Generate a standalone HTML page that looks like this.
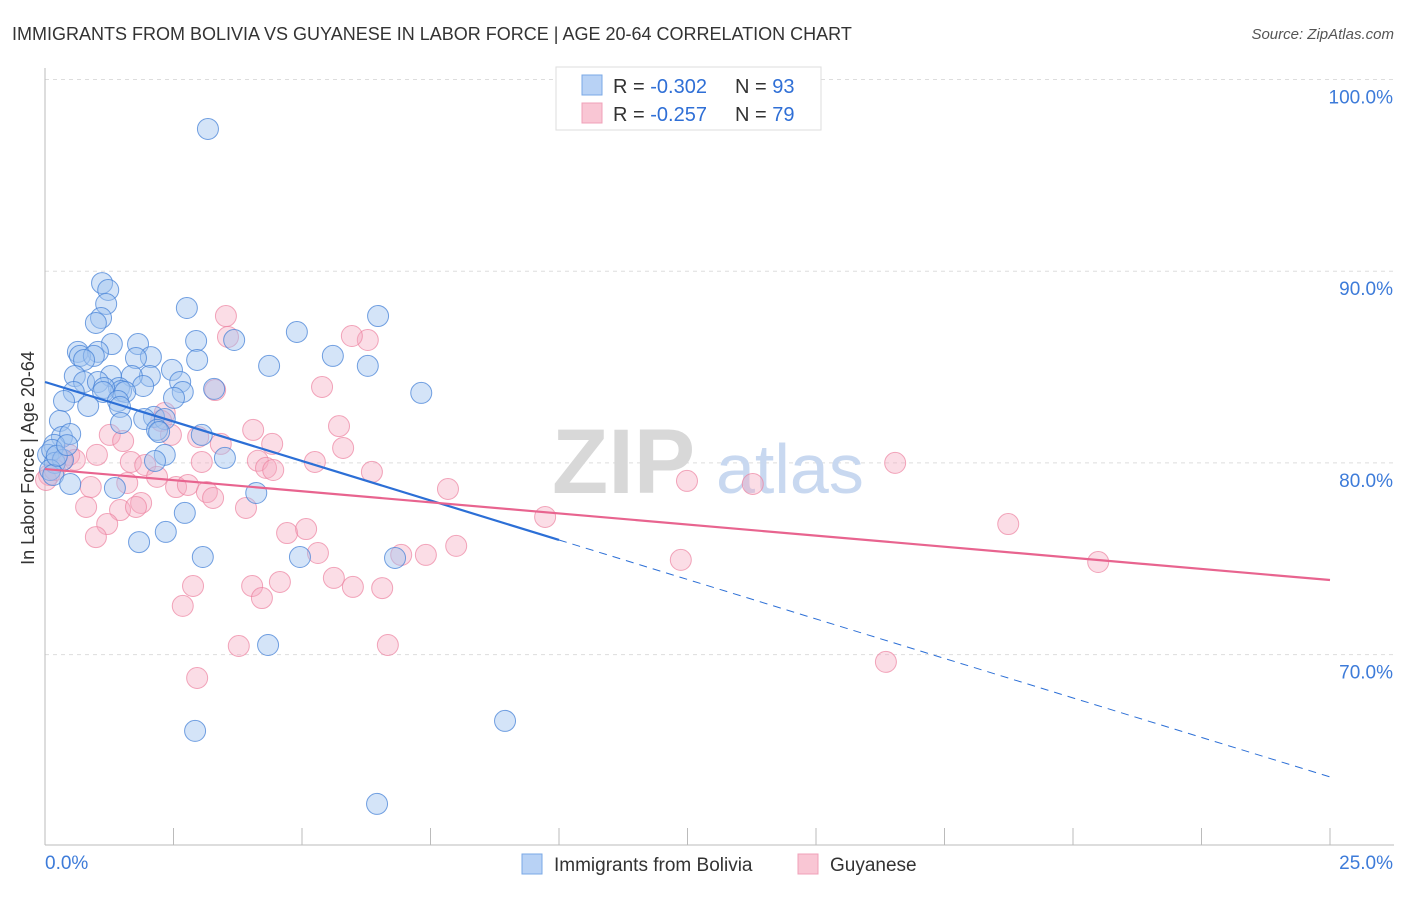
<!DOCTYPE html>
<html><head><meta charset="utf-8"><style>
body{margin:0;background:#fff;font-family:"Liberation Sans",sans-serif;}
svg text{font-family:"Liberation Sans",sans-serif;}
</style></head><body>
<svg id="chart" width="1406" height="892">
<text x="12" y="40" font-size="18" fill="#333">IMMIGRANTS FROM BOLIVIA VS GUYANESE IN LABOR FORCE | AGE 20-64 CORRELATION CHART</text>
<text x="1394" y="39" font-size="15" fill="#555" font-style="italic" text-anchor="end">Source: ZipAtlas.com</text>
<text x="0" y="0" transform="translate(34,458) rotate(-90)" font-size="18" fill="#333" text-anchor="middle">In Labor Force | Age 20-64</text>
<g id="grid"></g>
<text x="552" y="493" font-size="92" fill="#d8d8d8" font-family="Liberation Serif" font-weight="bold">ZIP</text>
<text x="716" y="493" font-size="70" fill="#c8d8f0">atlas</text>
<g id="pts"></g>
<g id="lines"></g>
<g>
<rect x="556" y="67" width="265" height="63" fill="#fff" stroke="#ddd"/>
<rect x="582" y="75" width="20" height="20" fill="#b8d2f5" stroke="#7aa8e6"/>
<rect x="582" y="103" width="20" height="20" fill="#f9c6d4" stroke="#f0a0b8"/>
<text x="613" y="93" font-size="20" fill="#333">R = <tspan fill="#2f6fd6">-0.302</tspan></text>
<text x="735" y="93" font-size="20" fill="#333">N = <tspan fill="#2f6fd6">93</tspan></text>
<text x="613" y="121" font-size="20" fill="#333">R = <tspan fill="#2f6fd6">-0.257</tspan></text>
<text x="735" y="121" font-size="20" fill="#333">N = <tspan fill="#2f6fd6">79</tspan></text>
</g>
<g>
<rect x="522" y="854" width="20" height="20" fill="#b8d2f5" stroke="#7aa8e6"/>
<text x="554" y="871" font-size="19" fill="#333">Immigrants from Bolivia</text>
<rect x="798" y="854" width="20" height="20" fill="#f9c6d4" stroke="#f0a0b8"/>
<text x="830" y="871" font-size="19" fill="#333">Guyanese</text>
</g>
</svg>
<script>
const xTicks=[0,2.5,5,7.5,10,12.5,15,17.5,20,22.5,25];
const yTicks=[100,90,80,70];
const yTickLabels=["100.0%","90.0%","80.0%","70.0%"];
const xEndLabels=["0.0%","25.0%"];
const blueX=[3.17,1.11,1.23,1.19,1.09,0.99,2.76,4.90,6.48,3.68,2.94,1.30,1.81,0.64,1.03,0.68,0.95,2.06,5.60,6.28,0.76,1.77,2.96,4.36,2.47,2.04,1.69,1.28,0.58,2.63,0.76,1.03,1.91,1.44,1.48,1.15,0.56,1.56,1.13,2.68,7.32,3.29,0.37,1.42,2.51,0.84,1.46,2.12,2.33,1.93,2.18,1.48,0.29,0.33,0.49,3.05,2.22,0.18,0.06,0.14,0.19,0.35,2.33,2.14,3.50,0.10,0.16,0.49,1.36,4.11,2.72,2.35,1.83,3.07,4.96,6.81,4.34,8.95,2.92,6.46,0.23,0.43];
const blueY=[97.42,89.38,89.02,88.29,87.56,87.30,88.08,86.83,87.66,86.41,86.36,86.20,86.20,85.79,85.79,85.58,85.58,85.52,85.58,85.06,85.37,85.47,85.37,85.06,84.85,84.53,84.53,84.53,84.53,84.22,84.22,84.22,84.01,83.91,83.75,83.91,83.70,83.70,83.70,83.70,83.65,83.86,83.23,83.23,83.39,82.97,82.92,82.40,82.29,82.29,81.72,82.08,82.19,81.35,81.51,81.46,81.61,80.94,80.42,80.68,80.00,80.16,80.42,80.10,80.26,79.63,79.37,78.90,78.69,78.43,77.39,76.40,75.87,75.09,75.09,75.04,70.50,66.54,66.02,62.21,80.37,80.93];
const pinkX=[3.52,3.56,6.28,5.97,5.39,3.31,5.72,4.05,2.33,2.26,2.45,1.26,1.52,2.98,3.42,1.01,0.47,0.58,0.33,1.67,1.95,3.05,4.14,4.30,4.44,5.25,5.80,6.36,7.84,12.49,13.77,16.54,2.18,1.60,0.89,2.55,2.78,3.15,3.27,1.87,1.46,0.80,1.77,3.91,1.21,0.99,4.71,5.08,9.73,7.41,8.00,5.31,18.74,20.49,12.37,6.93,5.62,2.88,4.03,4.57,5.99,6.56,2.68,4.22,3.77,6.67,2.96,16.36,0.08,0.02,0.19,4.42];
const pinkY=[87.66,86.57,86.41,86.62,83.96,83.80,81.92,81.72,82.60,82.19,81.46,81.46,81.14,81.35,80.99,80.42,80.42,80.16,80.11,80.05,79.89,80.05,80.11,79.74,79.63,80.05,80.78,79.53,78.64,79.06,78.90,80.00,79.27,78.95,78.74,78.74,78.85,78.48,78.17,77.91,77.54,77.70,77.70,77.65,76.81,76.13,76.34,76.55,77.18,75.20,75.67,75.30,76.81,74.83,74.94,75.20,74.00,73.58,73.58,73.79,73.53,73.47,72.54,72.95,70.45,70.50,68.78,69.62,79.37,79.11,79.63,80.99];
const blueFit=[84.22,63.62];
const pinkFit=[79.68,73.89];
const blueSolidEnd=10;

const NS="http://www.w3.org/2000/svg";
const X=v=>45+v/25*1285;
const Y=v=>79.5+(100-v)*19.17;
function mk(tag,attrs,parent){const e=document.createElementNS(NS,tag);for(const k in attrs)e.setAttribute(k,attrs[k]);parent.appendChild(e);return e;}
const grid=document.getElementById('grid');
yTicks.forEach((t,i)=>{
  const l=mk('line',{x1:45,x2:1394,y1:Y(t),y2:Y(t),stroke:'#ddd','stroke-dasharray':'4,4'},grid);
  
  
  const tx=mk('text',{x:1393,y:Y(t)+24,'font-size':19,fill:'#3d7bd9','text-anchor':'end'},grid);
  tx.textContent=yTickLabels[i];
  
  
});
const ax=mk('line',{x1:45,x2:45,y1:68,y2:845,stroke:'#bbb'},grid);


const bx=mk('line',{x1:45,x2:1394,y1:845,y2:845,stroke:'#bbb'},grid);


xTicks.forEach(t=>{
  const l=mk('line',{x1:X(t),x2:X(t),y1:828,y2:845,stroke:'#bbb'},grid);
  
  
});
[[0,'start',45],[1,'end',1393]].forEach(([i,a,x])=>{
  const t=mk('text',{x:x,y:869,'font-size':19,fill:'#3d7bd9','text-anchor':a},grid);
  t.textContent=xEndLabels[i];
  
  
});
const pts=document.getElementById('pts');
pinkX.forEach((x,i)=>{
  const c=mk('circle',{cx:X(x),cy:Y(pinkY[i]),r:10.5,fill:'rgba(245,170,192,0.4)',stroke:'rgba(236,130,160,0.7)','stroke-width':1},pts);
  
  
});
blueX.forEach((x,i)=>{
  const c=mk('circle',{cx:X(x),cy:Y(blueY[i]),r:10.5,fill:'rgba(160,195,240,0.45)',stroke:'rgba(70,130,215,0.75)','stroke-width':1},pts);
  
  
});
const lines=document.getElementById('lines');
const bAt=x=>blueFit[0]+(blueFit[1]-blueFit[0])*x/25;
let l1=mk('line',{x1:X(0),y1:Y(bAt(0)),x2:X(blueSolidEnd),y2:Y(bAt(blueSolidEnd)),stroke:'#2c6fd6','stroke-width':2.2},lines);


let l2=mk('line',{x1:X(blueSolidEnd),y1:Y(bAt(blueSolidEnd)),x2:X(25),y2:Y(bAt(25)),stroke:'#2c6fd6','stroke-width':1,'stroke-dasharray':'8,6'},lines);


let l3=mk('line',{x1:X(0),y1:Y(pinkFit[0]),x2:X(25),y2:Y(pinkFit[1]),stroke:'#e8648f','stroke-width':2.2},lines);


</script>
</body></html>
